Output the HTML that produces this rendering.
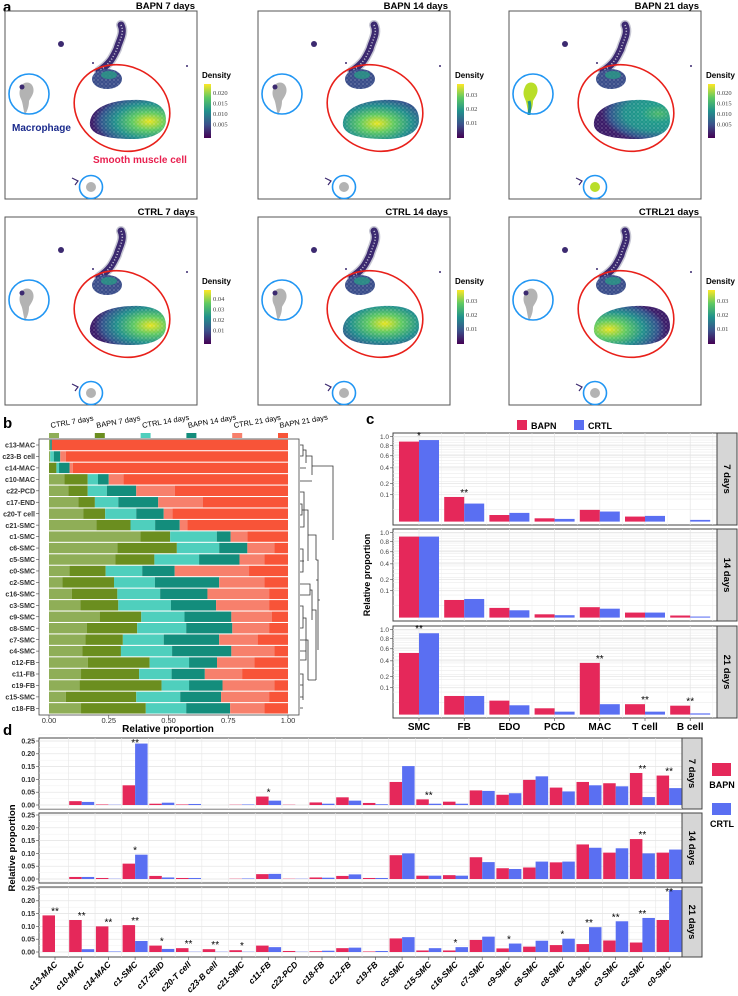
<!DOCTYPE html>
<html><head><meta charset="utf-8">
<style>
html,body{margin:0;padding:0;background:#fff;}
svg{display:block;font-family:"Liberation Sans",Arial,sans-serif;}
.b{font-weight:bold;}
</style></head>
<body>
<svg id="fig" width="738" height="996" viewBox="0 0 738 996" xmlns="http://www.w3.org/2000/svg">
<defs>
<linearGradient id="viridis" x1="0" y1="1" x2="0" y2="0">
<stop offset="0" stop-color="#440154"/><stop offset="0.25" stop-color="#3b528b"/><stop offset="0.5" stop-color="#21918c"/><stop offset="0.75" stop-color="#5ec962"/><stop offset="1" stop-color="#fde725"/>
</linearGradient>
<pattern id="speck" width="4" height="4" patternUnits="userSpaceOnUse"><rect width="4" height="4" fill="none"/><circle cx="1" cy="1" r="0.6" fill="#fff" opacity="0.5"/><circle cx="3" cy="3" r="0.5" fill="#fff" opacity="0.35"/></pattern>
</defs>
<g id="panelA"></g>
<g id="panelB"></g>
<g id="panelC"></g>
<g id="panelD"></g>
</svg>
<script>
// ---------- Panel b data ----------
const bRows = ["c13-MAC","c23-B cell","c14-MAC","c10-MAC","c22-PCD","c17-END","c20-T cell","c21-SMC","c1-SMC","c6-SMC","c5-SMC","c0-SMC","c2-SMC","c16-SMC","c3-SMC","c9-SMC","c8-SMC","c7-SMC","c4-SMC","c12-FB","c11-FB","c19-FB","c15-SMC","c18-FB"];
const bGroups = ["CTRL 7 days","BAPN 7 days","CTRL 14 days","BAPN 14 days","CTRL 21 days","BAPN 21 days"];
const bCum = [
[0.005,0.005,0.005,0.012,0.012,1],[0.005,0.005,0.02,0.047,0.07,1],[0,0.031,0.042,0.086,0.1,1],[0.064,0.162,0.205,0.25,0.312,1],
[0.081,0.162,0.242,0.365,0.526,1],[0.123,0.192,0.29,0.457,0.643,1],[0.143,0.235,0.365,0.48,0.517,1],[0.198,0.341,0.444,0.547,0.579,1],
[0.383,0.507,0.702,0.76,0.83,1],[0.286,0.535,0.712,0.83,0.943,1],[0.277,0.441,0.628,0.797,0.901,1],[0.086,0.237,0.39,0.526,0.837,1],
[0.056,0.272,0.443,0.712,0.901,1],[0.095,0.286,0.465,0.663,0.921,1],[0.131,0.29,0.51,0.699,0.921,1],[0.212,0.386,0.567,0.763,0.933,1],
[0.159,0.369,0.574,0.767,0.921,1],[0.152,0.309,0.48,0.712,0.873,1],[0.139,0.301,0.515,0.763,0.943,1],[0.163,0.421,0.586,0.703,0.859,1],
[0.134,0.377,0.513,0.652,0.808,1],[0.128,0.471,0.586,0.726,0.943,1],[0.07,0.365,0.549,0.72,0.921,1],[0.134,0.405,0.574,0.758,0.901,1]];
const bTicks = [0,0.25,0.5,0.75,1];
const bTickLabels = ["0.00","0.25","0.50","0.75","1.00"];
// ---------- Panel c data ----------
const cCats = ["SMC","FB","EDO","PCD","MAC","T cell","B cell"];
const cFacets = ["7 days","14 days","21 days"];
const cBapn7 = [0.886,0.084,0.006,0.0015,0.019,0.0035,0];
const cCrtl7 = [0.92,0.045,0.0105,0.001,0.014,0.0045,0.0004];
const cBapn14 = [0.908,0.043,0.013,0.0015,0.015,0.0035,0.0006];
const cCrtl14 = [0.908,0.048,0.0074,0.0008,0.011,0.0035,0.00015];
const cBapn21 = [0.526,0.048,0.027,0.0055,0.37,0.015,0.011];
const cCrtl21 = [0.916,0.048,0.012,0.0012,0.015,0.0012,0.0002];
const cStars7 = ["*","**","","","","",""];
const cStars14 = ["","","","","","",""];
const cStars21 = ["**","","","","**","**","**"];
const cTicks = [0.1,0.2,0.4,0.6,0.8,1.0];
const cTickLabels = ["0.1","0.2","0.4","0.6","0.8","1.0"];
// ---------- Panel d data ----------
const dCats = ["c13-MAC","c10-MAC","c14-MAC","c1-SMC","c17-END","c20-T cell","c23-B cell","c21-SMC","c11-FB","c22-PCD","c18-FB","c12-FB","c19-FB","c5-SMC","c15-SMC","c16-SMC","c7-SMC","c9-SMC","c6-SMC","c8-SMC","c4-SMC","c3-SMC","c2-SMC","c0-SMC"];
const dFacets = ["7 days","14 days","21 days"];
const dBapn7 = [0,0.015,0.002,0.077,0.005,0.002,0,0.001,0.033,0.001,0.01,0.03,0.008,0.09,0.022,0.013,0.057,0.04,0.098,0.068,0.09,0.085,0.125,0.115];
const dCrtl7 = [0,0.012,0.001,0.24,0.009,0.004,0,0.002,0.017,0,0.005,0.017,0.003,0.152,0.005,0.005,0.055,0.046,0.112,0.053,0.077,0.073,0.031,0.066];
const dBapn14 = [0,0.008,0.004,0.06,0.012,0.004,0,0.001,0.019,0.001,0.006,0.012,0.004,0.093,0.013,0.015,0.085,0.042,0.045,0.065,0.135,0.103,0.156,0.103];
const dCrtl14 = [0,0.008,0.001,0.095,0.006,0.004,0,0.002,0.02,0.001,0.005,0.018,0.004,0.1,0.013,0.013,0.066,0.039,0.068,0.068,0.122,0.12,0.1,0.115];
const dBapn21 = [0.143,0.125,0.1,0.105,0.025,0.015,0.011,0.007,0.025,0.004,0.003,0.015,0.002,0.053,0.006,0.006,0.047,0.014,0.021,0.027,0.031,0.045,0.037,0.125];
const dCrtl21 = [0,0.011,0.002,0.043,0.012,0.001,0.001,0.001,0.019,0.001,0.005,0.017,0.004,0.058,0.015,0.019,0.06,0.033,0.044,0.052,0.097,0.12,0.133,0.242];
const dStars7 = ["","","","**","","","","","*","","","","","","**","","","","","","","","**","**"];
const dStars14 = ["","","","*","","","","","","","","","","","","","","","","","","","**",""];
const dStars21 = ["**","**","**","**","*","**","**","*","","","","","","","","*","","*","","*","**","**","**","**"];
const dTicks = [0,0.05,0.1,0.15,0.2,0.25];
const dTickLabels = ["0.00","0.05","0.10","0.15","0.20","0.25"];

const NS="http://www.w3.org/2000/svg";
function mk(parent,tag,attrs,text){const e=document.createElementNS(NS,tag);for(const k in attrs)e.setAttribute(k,attrs[k]);if(text!==undefined)e.textContent=text;parent.appendChild(e);return e;}
const RED="#e5285a", BLUE="#5a6ff2";

// ================= Panel a =================
const A=document.getElementById('panelA');
const panelLabelA=mk(A,'text',{x:3,y:12,'font-size':15,'class':'b'},'a');


const aTitles=["BAPN 7 days","BAPN 14 days","BAPN 21 days","CTRL 7 days","CTRL 14 days","CTRL21 days"];
const aLegend=[["0.020","0.015","0.010","0.005"],["0.03","0.02","0.01"],["0.020","0.015","0.010","0.005"],["0.04","0.03","0.02","0.01"],["0.03","0.02","0.01"],["0.03","0.02","0.01"]];
const aHot=[[0.78,0.55],[0.45,0.6],[0.85,0.35],[0.8,0.5],[0.55,0.45],[0.2,0.6]];
const aHotStrength=[0.9,0.9,0.35,0.95,0.9,0.95];
const aMacBright=[false,false,true,false,false,false];
const aX=[5,258,509], aY=[11,217];
for(let p=0;p<6;p++){
  const ox=aX[p%3], oy=aY[Math.floor(p/3)];
  const g=mk(A,'g',{transform:`translate(${ox},${oy})`});
  
  
  const t=mk(g,'text',{x:190,y:-2,'font-size':9.5,'class':'b','text-anchor':'end'},aTitles[p]);
  
  
  mk(g,'rect',{x:0,y:0,width:192,height:188,fill:'#fff',stroke:'#555','stroke-width':1});
  const gid='hot'+p;
  const d=document.querySelector('defs');
  const rg=mk(d,'radialGradient',{id:gid,cx:aHot[p][0],cy:aHot[p][1],r:0.75});
  const s=aHotStrength[p];
  mk(rg,'stop',{offset:0,'stop-color':s>0.5?'#e8e41f':'#4cb86a'});
  mk(rg,'stop',{offset:0.3,'stop-color':s>0.5?'#5ec962':'#1f9a8a'});
  mk(rg,'stop',{offset:0.6,'stop-color':'#21908c'});
  mk(rg,'stop',{offset:0.85,'stop-color':'#31548c'});
  mk(rg,'stop',{offset:1,'stop-color':'#3b1b68'});
  const ridge='M116 14 C120 22 114 30 112 38 C108 46 106 52 94 60';
  mk(g,'path',{d:ridge,fill:'none',stroke:'#c8c8d4','stroke-width':10,'stroke-linecap':'round'});
  mk(g,'path',{d:ridge,fill:'none',stroke:'#3c2a70','stroke-width':7,'stroke-linecap':'round'});
  mk(g,'path',{d:ridge,fill:'none',stroke:'#d0d0dc','stroke-width':1.5,'stroke-dasharray':'1 2'});
  mk(g,'ellipse',{cx:102,cy:68,rx:15,ry:10,fill:'#3a4d8a'});
  mk(g,'ellipse',{cx:102,cy:68,rx:15,ry:10,fill:'url(#speck)'});
  mk(g,'ellipse',{cx:104,cy:64,rx:8,ry:4,fill:'#2a9a86',opacity:0.8});
  mk(g,'circle',{cx:56,cy:33,r:3,fill:'#3c2a70'});
  mk(g,'circle',{cx:88,cy:52,r:1,fill:'#3c2a70'});
  mk(g,'circle',{cx:182,cy:55,r:1,fill:'#3c2a70'});
  const blob='M85 111 C87 94 112 88 135 89 C152 90 161 96 161 109 C161 122 147 128 127 128 C103 128 83 124 85 111 Z';
  mk(g,'path',{d:blob,fill:`url(#${gid})`});
  mk(g,'path',{d:blob,fill:'url(#speck)'});
  mk(g,'path',{d:'M16 76 C18 70 26 70 28 76 C30 82 26 86 24 90 C24 96 22 100 20 104 C18 98 18 92 16 88 C14 84 14 80 16 76 Z',fill:aMacBright[p]?'#b9de28':'#b3b3b3'});
  if(aMacBright[p]) mk(g,'path',{d:'M20 90 C22 96 20 100 20 104',stroke:'#21918c','stroke-width':3,fill:'none'});
  else mk(g,'circle',{cx:17,cy:76,r:2.5,fill:'#3c2a70'});
  mk(g,'circle',{cx:86,cy:176,r:5,fill:aMacBright[p]?'#b9de28':'#b3b3b3'});
  mk(g,'path',{d:'M67 167 L73 170 L70 174',stroke:'#3c2a70','stroke-width':1.2,fill:'none'});
  const bc=mk(g,'circle',{cx:24,cy:83,r:20,fill:'none',stroke:'#2196f3','stroke-width':1.6});
  
  
  const re=mk(g,'ellipse',{cx:117,cy:97,rx:49,ry:42,transform:'rotate(25 117 97)',fill:'none',stroke:'#e8201a','stroke-width':1.6});
  
  
  mk(g,'circle',{cx:86,cy:176,r:11.5,fill:'none',stroke:'#2196f3','stroke-width':1.6});
  if(p===0){
    const mt=mk(g,'text',{x:7,y:120,'font-size':10,'class':'b',fill:'#1a2a8c'},'Macrophage');
    
    
    const st=mk(g,'text',{x:88,y:152,'font-size':10,'class':'b',fill:'#e8204f'},'Smooth muscle cell');
    
    
  }
  const lg=mk(g,'g',{transform:'translate(197,0)'});
  
  
  mk(lg,'text',{x:0,y:67,'font-size':8,'class':'b'},'Density');
  mk(lg,'rect',{x:2,y:73,width:7,height:54,fill:'url(#viridis)'});
  const labs=aLegend[p];
  for(let i=0;i<labs.length;i++){
    const yy=labs.length===4?82+i*10.5:84+i*14;
    mk(lg,'text',{x:11,y:yy+2,'font-size':6.5,'font-family':'Liberation Serif,serif',fill:'#444'},labs[i]);
  }
}

// ================= Panel b =================
const B=document.getElementById('panelB');
const lbB=mk(B,'text',{x:3,y:428,'font-size':15,'class':'b'},'b');


const bColors=["#8fae57","#6b8e1f","#4fcfbd","#138d7c","#f7806c","#f85438"];
const bx=v=>49+v*239;
const by=i=>445+i*11.45;
for(let k=0;k<bGroups.length;k++){
  const lx=49+k*45.8;
  const sq=mk(B,'rect',{x:lx,y:433,width:10,height:5,fill:bColors[k]});
  
  
  const lt=mk(B,'text',{x:lx+2,y:428,'font-size':7.5,transform:`rotate(-10 ${lx+2} 428)`},bGroups[k]);
  
  
}
mk(B,'rect',{x:39,y:439,width:260,height:276,fill:'#fff',stroke:'#444','stroke-width':0.8});
for(let t=0;t<bTicks.length;t++){
  mk(B,'line',{x1:bx(bTicks[t]),x2:bx(bTicks[t]),y1:715,y2:718,stroke:'#444','stroke-width':0.6});
  const tl=mk(B,'text',{x:bx(bTicks[t]),y:723,'font-size':7.5,'text-anchor':'middle',fill:'#333'},bTickLabels[t]);
  
  
}
const bxt=mk(B,'text',{x:168,y:732,'font-size':10,'class':'b','text-anchor':'middle'},'Relative proportion');


for(let i=0;i<bRows.length;i++){
  const yc=by(i);
  const rl=mk(B,'text',{x:35,y:yc+2.6,'font-size':7,'class':'b','text-anchor':'end',fill:'#333'},bRows[i]);
  
  
  mk(B,'line',{x1:36,x2:39,y1:yc,y2:yc,stroke:'#444','stroke-width':0.6});
  let prev=0;
  for(let k=0;k<6;k++){
    const v=bCum[i][k];
    if(v>prev){
      const r=mk(B,'rect',{x:bx(prev),y:yc-5.2,width:bx(v)-bx(prev),height:10.4,fill:bColors[k]});
      
      
    }
    prev=Math.max(prev,v);
  }
}
const dend=mk(B,'path',{fill:'none',stroke:'#333','stroke-width':0.8,d:
'M300 445 H303 V456 H300 M303 450 H306 V463 M300 468 H306 M306 456 H312 V475 M300 481 H312 M312 466 H333 V540 '+
'M300 492 H304 V527 H300 M300 504 H302 V515 H300 M302 510 H304 M304 510 H308 V561 M300 549 H303 V572 H300 M300 561 H304 '+
'M308 535 H316 V560 M300 584 H310 V595 H300 M310 590 H312 V620 M300 606 H303 V628 H300 M303 618 H306 V660 H300 M300 640 H306 M300 651 H306 '+
'M306 640 H308 V680 M300 674 H303 V700 M300 685 H303 M300 697 H303 M300 708 H303 M312 610 H316 V680 M308 680 H316 M316 580 H318 V650 M316 560 H318 V600 M318 600 H320'});



// ================= Panel c =================
const C=document.getElementById('panelC');
const lbC=mk(C,'text',{x:366,y:424,'font-size':15,'class':'b'},'c');


const lr=mk(C,'rect',{x:517,y:420,width:10,height:10,fill:RED});


mk(C,'text',{x:531,y:429,'font-size':9,'class':'b'},'BAPN');
const lb2=mk(C,'rect',{x:574,y:420,width:10,height:10,fill:BLUE});


mk(C,'text',{x:588,y:429,'font-size':9,'class':'b'},'CRTL');
const cyt=mk(C,'text',{x:0,y:0,'font-size':9,'class':'b','text-anchor':'middle',transform:'translate(370,575) rotate(-90)'},'Relative proportion');


const cTops=[433,529,626];
const cB=[cBapn7,cBapn14,cBapn21], cC=[cCrtl7,cCrtl14,cCrtl21], cS=[cStars7,cStars14,cStars21];
const cx=i=>419+i*45.2;
for(let f=0;f<3;f++){
  const top=cTops[f], h=92, y1=top+3.6;
  const cy=v=>y1+(1-Math.sqrt(v))*85;
  const g=mk(C,'g',{});
  
  
  mk(g,'rect',{x:393,y:top,width:324,height:h,fill:'#fff',stroke:'#444','stroke-width':1});
  for(let m=0.02;m<1.0;m+=0.05){mk(g,'line',{x1:393,x2:717,y1:cy(m),y2:cy(m),stroke:'#ececec','stroke-width':0.6});}
  for(let i=0;i<cCats.length;i++){mk(g,'line',{x1:cx(i),x2:cx(i),y1:top,y2:top+h,stroke:'#e4e4e4','stroke-width':0.7});
    mk(g,'line',{x1:cx(i)+22.6,x2:cx(i)+22.6,y1:top,y2:top+h,stroke:'#efefef','stroke-width':0.5});}
  for(let t=0;t<cTicks.length;t++){
    mk(g,'line',{x1:393,x2:717,y1:cy(cTicks[t]),y2:cy(cTicks[t]),stroke:'#e2e2e2','stroke-width':0.7});
    mk(g,'line',{x1:390,x2:393,y1:cy(cTicks[t]),y2:cy(cTicks[t]),stroke:'#444','stroke-width':0.6});
    const tl=mk(g,'text',{x:389,y:cy(cTicks[t])+2.3,'font-size':6.5,'text-anchor':'end',fill:'#444'},cTickLabels[t]);
    
    
  }
  for(let i=0;i<cCats.length;i++){
    const base=cy(0);
    if(cB[f][i]>0){const r=mk(g,'rect',{x:cx(i)-20,y:cy(cB[f][i]),width:20,height:base-cy(cB[f][i]),fill:RED});
      
      }
    if(cC[f][i]>0){const r=mk(g,'rect',{x:cx(i),y:cy(cC[f][i]),width:20,height:base-cy(cC[f][i]),fill:BLUE});
      
      }
    if(cS[f][i]){const s=mk(g,'text',{x:cx(i),y:cy(Math.max(cB[f][i],cC[f][i]))-1,'font-size':10,'text-anchor':'middle'},cS[f][i]);
      
      }
  }
  mk(g,'rect',{x:717,y:top,width:20,height:h,fill:'#d6d6d6',stroke:'#444','stroke-width':1});
  const st=mk(g,'text',{x:0,y:0,'font-size':9.5,'class':'b','text-anchor':'middle',transform:`translate(724,${top+h/2}) rotate(90)`},cFacets[f]);
  
  
}
for(let i=0;i<cCats.length;i++){
  mk(C,'line',{x1:cx(i),x2:cx(i),y1:718,y2:721,stroke:'#444','stroke-width':0.6});
  const l=mk(C,'text',{x:cx(i),y:730,'font-size':10,'class':'b','text-anchor':'middle'},cCats[i]);
  
  
}

// ================= Panel d =================
const D=document.getElementById('panelD');
const lbD=mk(D,'text',{x:3,y:735,'font-size':15,'class':'b'},'d');


const dTops=[738,813,887], dZero=[805,879,952];
const dB=[dBapn7,dBapn14,dBapn21], dC=[dCrtl7,dCrtl14,dCrtl21], dS=[dStars7,dStars14,dStars21];
const dx=i=>55+i*26.7;
for(let f=0;f<3;f++){
  const top=dTops[f], z=dZero[f], h=(f===0?71:70);
  const dy=v=>z-v*256;
  const g=mk(D,'g',{});
  
  
  mk(g,'rect',{x:39,y:top,width:643,height:h,fill:'#fff',stroke:'#444','stroke-width':1});
  for(let t=0;t<dTicks.length;t++){
    const yy=dy(dTicks[t]);
    if(yy>top){mk(g,'line',{x1:39,x2:682,y1:yy,y2:yy,stroke:'#e2e2e2','stroke-width':0.7});
    mk(g,'line',{x1:39,x2:682,y1:yy-6.4,y2:yy-6.4,stroke:'#f0f0f0','stroke-width':0.5});}
    mk(g,'line',{x1:36,x2:39,y1:yy,y2:yy,stroke:'#444','stroke-width':0.6});
    const tl=mk(g,'text',{x:35,y:yy+2.4,'font-size':7,'class':'b','text-anchor':'end',fill:'#333'},dTickLabels[t]);
    
    
  }
  for(let i=0;i<dCats.length;i++){
    mk(g,'line',{x1:dx(i)+13.35,x2:dx(i)+13.35,y1:top,y2:top+h,stroke:'#e6e6e6','stroke-width':0.6});
    if(dB[f][i]>0){const r=mk(g,'rect',{x:dx(i)-12.5,y:dy(dB[f][i]),width:12.5,height:z-dy(dB[f][i]),fill:RED});
      
      }
    if(dC[f][i]>0){const r=mk(g,'rect',{x:dx(i),y:dy(dC[f][i]),width:12.5,height:z-dy(dC[f][i]),fill:BLUE});
      
      }
    if(dS[f][i]){const s=mk(g,'text',{x:dx(i),y:Math.max(top+8,dy(Math.max(dB[f][i],dC[f][i]))-1),'font-size':10,'text-anchor':'middle'},dS[f][i]);
      
      }
  }
  mk(g,'rect',{x:682,y:top,width:20,height:h,fill:'#d6d6d6',stroke:'#444','stroke-width':1});
  const st=mk(g,'text',{x:0,y:0,'font-size':9.5,'class':'b','text-anchor':'middle',transform:`translate(689,${top+h/2}) rotate(90)`},dFacets[f]);
  
  
}
for(let i=0;i<dCats.length;i++){
  mk(D,'line',{x1:dx(i),x2:dx(i),y1:957,y2:960,stroke:'#444','stroke-width':0.6});
  const l=mk(D,'text',{x:0,y:0,'font-size':8.5,'class':'b','font-style':'italic','text-anchor':'end',transform:`translate(${dx(i)+3},965) rotate(-45)`},dCats[i]);
  
  
}
const dyt=mk(D,'text',{x:0,y:0,'font-size':9.5,'class':'b','text-anchor':'middle',transform:'translate(15,848) rotate(-90)'},'Relative proportion');


const dl1=mk(D,'rect',{x:712,y:763,width:19,height:13,fill:RED});


mk(D,'text',{x:722,y:788,'font-size':9,'class':'b','text-anchor':'middle'},'BAPN');
const dl2=mk(D,'rect',{x:712,y:803,width:19,height:12,fill:BLUE});


mk(D,'text',{x:722,y:827,'font-size':9,'class':'b','text-anchor':'middle'},'CRTL');
</script>
</body></html>
